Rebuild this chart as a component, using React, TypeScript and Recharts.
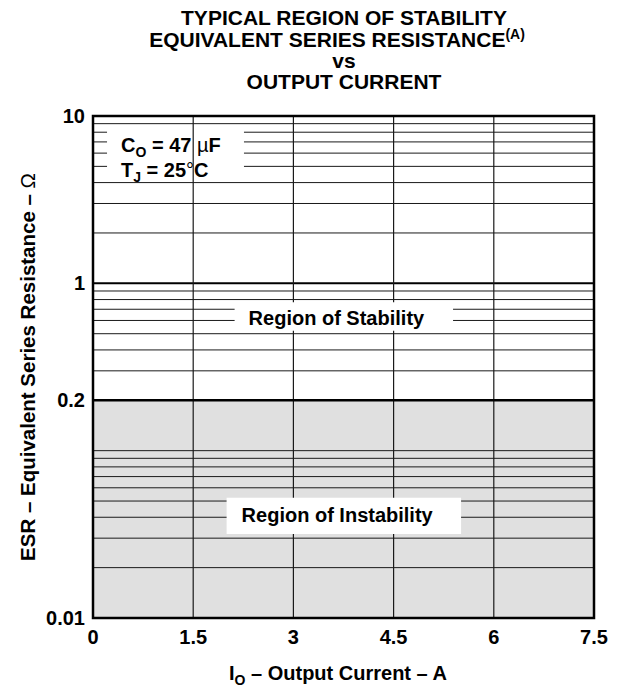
import React from 'react';
import { ComposedChart, XAxis, YAxis, ReferenceArea, ReferenceLine, Line } from 'recharts';

// ---- data ----
const currentTicks = [0, 1.5, 3, 4.5, 6, 7.5];
const esrTicks = [0.01, 0.2, 1, 10];
const esrTickLabels = ['0.01', '0.2', '1', '10'];
const esrGrid = [9, 8, 7, 6, 5, 4, 3, 2, 0.9, 0.8, 0.7, 0.6, 0.5, 0.4, 0.3, 0.1, 0.09, 0.08, 0.07, 0.06, 0.05, 0.04, 0.03, 0.02];
const esrMajorGrid = [1];
const currentGrid = [1.5, 3, 4.5, 6];
const boundaryCurrent = [0, 7.5];
const boundaryEsr = [0.2, 0.2];
const instabilityEsr = [0.01, 0.2];
const titleLines = ['TYPICAL REGION OF STABILITY', 'EQUIVALENT SERIES RESISTANCE', 'vs', 'OUTPUT CURRENT'];
const stabilityText = 'Region of Stability';
const instabilityText = 'Region of Instability';

const boundaryData = boundaryCurrent.map((c, i) => ({ current: c, esr: boundaryEsr[i] }));

const FONT = '"Liberation Sans", Arial, Helvetica, sans-serif';

const fmtEsr = (v: number) => {
  const i = esrTicks.indexOf(v);
  return i >= 0 ? esrTickLabels[i] : String(v);
};

const LegendLabel = (props: any) => {
  const vb = props.viewBox || {};
  const x = vb.x + 14;
  const y = vb.y + 25;
  return (
    <g fontFamily={FONT} fontWeight="bold" fontSize={20} fill="#000">
      <text x={x} y={y}>
        C<tspan fontSize={14} dy={5}>O</tspan>
        <tspan dy={-5}> = 47 </tspan>
        <tspan fontWeight="normal">µ</tspan>F
      </text>
      <text x={x} y={y + 25}>
        T<tspan fontSize={14} dy={5}>J</tspan>
        <tspan dy={-5}> = 25</tspan>
        <tspan fontWeight="normal">°</tspan>C
      </text>
    </g>
  );
};

const RegionLabel = (text: string, dx: number, dy: number) => (props: any) => {
  const vb = props.viewBox || {};
  return (
    <text x={vb.x + dx} y={vb.y + dy} fontFamily={FONT} fontWeight="bold" fontSize={20} fill="#000">
      {text}
    </text>
  );
};

export default function App() {
  return (
    <div style={{ position: 'absolute', left: 0, top: 0, width: 623, height: 687, background: '#fff' }}>
      <ComposedChart
        width={623}
        height={687}
        data={boundaryData}
        margin={{ top: 116, right: 29, bottom: 0, left: 0 }}
      >
        <XAxis
          dataKey="current"
          type="number"
          domain={[0, 7.5]}
          ticks={currentTicks}
          allowDataOverflow
          axisLine={false}
          tickLine={false}
          tickSize={0}
          tickMargin={12}
          height={69}
          tick={{ fontSize: 20, fontWeight: 'bold', fill: '#000', fontFamily: FONT }}
        />
        <YAxis
          type="number"
          scale="log"
          domain={[0.01, 10]}
          ticks={esrTicks}
          tickFormatter={fmtEsr}
          allowDataOverflow
          axisLine={false}
          tickLine={false}
          tickSize={0}
          tickMargin={8}
          width={93}
          tick={{ fontSize: 20, fontWeight: 'bold', fill: '#000', fontFamily: FONT }}
        />
        <ReferenceArea
          x1={0}
          x2={7.5}
          y1={instabilityEsr[0]}
          y2={instabilityEsr[1]}
          fill="#e0e0e0"
          fillOpacity={1}
          stroke="none"
          zIndex={1}
        />
        {esrGrid.map((v) => (
          <ReferenceLine key={'h' + v} y={v} stroke="#1a1a1a" strokeWidth={1} zIndex={2} />
        ))}
        {esrMajorGrid.map((v) => (
          <ReferenceLine key={'hm' + v} y={v} stroke="#000" strokeWidth={2} zIndex={2} />
        ))}
        <ReferenceArea
          x1={0.21}
          x2={2.26}
          y1={4.05}
          y2={8.56}
          fill="#fff"
          fillOpacity={1}
          stroke="none"
          zIndex={3}
          label={LegendLabel}
        />
        {currentGrid.map((v) => (
          <ReferenceLine key={'v' + v} x={v} stroke="#1a1a1a" strokeWidth={1.2} zIndex={4} />
        ))}
        <ReferenceArea
          x1={2.12}
          x2={5.39}
          y1={0.52}
          y2={0.77}
          fill="#fff"
          fillOpacity={1}
          stroke="none"
          zIndex={5}
          label={RegionLabel(stabilityText, 14, 23)}
        />
        <ReferenceArea
          x1={2.0}
          x2={5.51}
          y1={0.0318}
          y2={0.0524}
          fill="#fff"
          fillOpacity={1}
          stroke="none"
          zIndex={5}
          label={RegionLabel(instabilityText, 15, 24.5)}
        />
        <Line
          dataKey="esr"
          stroke="#000"
          strokeWidth={2.5}
          dot={false}
          activeDot={false}
          isAnimationActive={false}
          zIndex={6}
        />
        <ReferenceArea
          x1={0}
          x2={7.5}
          y1={0.01}
          y2={10}
          fill="none"
          fillOpacity={0}
          stroke="#000"
          strokeWidth={2.5}
          zIndex={7}
        />
      </ComposedChart>
      <svg
        width={623}
        height={687}
        style={{ position: 'absolute', left: 0, top: 0, pointerEvents: 'none' }}
        fontFamily={FONT}
        fontWeight="bold"
        fill="#000"
      >
        <text x={344} y={25} fontSize={21} textAnchor="middle">{titleLines[0]}</text>
        <text x={337} y={46.5} fontSize={21} textAnchor="middle">
          {titleLines[1]}
          <tspan fontSize={14} dy={-8}>(A)</tspan>
        </text>
        <text x={344} y={67.5} fontSize={21} textAnchor="middle">{titleLines[2]}</text>
        <text x={344} y={88.5} fontSize={21} textAnchor="middle">{titleLines[3]}</text>
        <text x={338} y={680} fontSize={20} textAnchor="middle">
          I<tspan fontSize={14} dy={5}>O</tspan>
          <tspan dy={-5}> – Output Current – A</tspan>
        </text>
        <text
          x={35}
          y={367}
          fontSize={20.5}
          textAnchor="middle"
          transform="rotate(-90 35 367)"
        >
          ESR – Equivalent Series Resistance – <tspan fontWeight="normal">Ω</tspan>
        </text>
      </svg>
    </div>
  );
}
